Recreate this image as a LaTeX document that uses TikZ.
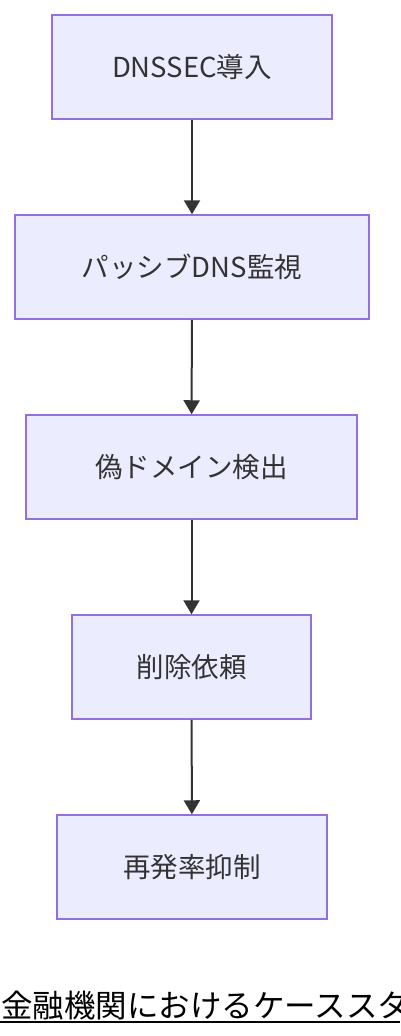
\documentclass[tikz,border=0pt]{standalone}
\usepackage{fontspec}
\setmainfont{Noto Sans CJK JP}
\usetikzlibrary{arrows.meta}
\definecolor{boxfill}{HTML}{ECECFF}
\definecolor{boxline}{HTML}{9370DB}
\definecolor{ink}{HTML}{333333}
\begin{document}
\begin{tikzpicture}[x=1pt, y=-1pt,
  stepbox/.style={draw=boxline, fill=boxfill, line width=1.5pt, text=ink,
    minimum height=104pt, inner sep=0pt, font=\fontsize{27.5}{32}\selectfont},
  flow/.style={draw=ink, line width=2pt, -{Triangle[width=16pt,length=14pt]}}]

\useasboundingbox (0,0) rectangle (400,1036);

% steps
\node[stepbox, minimum width=280pt] (dnssec) at (192,67) {DNSSEC導入};
\node[stepbox, minimum width=354pt] (pdns) at (192,267) {パッシブDNS監視};
\node[stepbox, minimum width=331pt] (detect) at (191.5,467) {偽ドメイン検出};
\node[stepbox, minimum width=239pt] (takedown) at (191.5,667) {削除依頼};
\node[stepbox, minimum width=270pt] (recur) at (192,867) {再発率抑制};

% arrows
\draw[flow] (dnssec) -- (pdns);
\draw[flow] (pdns) -- (detect);
\draw[flow] (detect) -- (takedown);
\draw[flow] (takedown) -- (recur);

% caption (cut off at the right edge)
\node[anchor=base west, inner sep=0pt, font=\fontsize{31.5}{36}\selectfont] (title) at (1,1017) {金融機関におけるケーススタディ};
\draw[line width=2pt] (0,1022) -- (400,1022);

\end{tikzpicture}
\end{document}
